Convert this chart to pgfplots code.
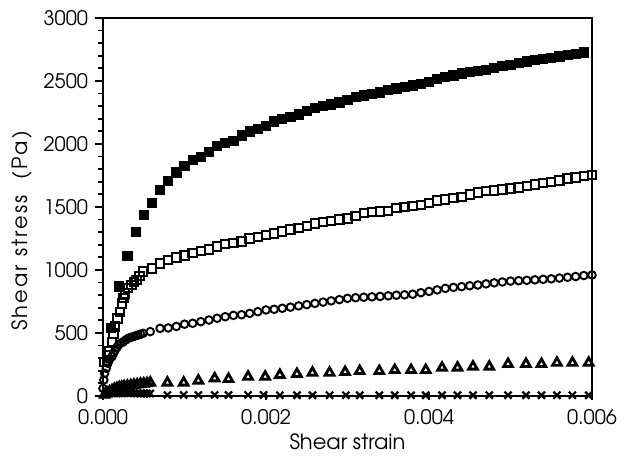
\documentclass[border=0pt]{standalone}
\usepackage{fontspec}
\setmainfont{TeX Gyre Adventor}
\newfontfamily\spacedfont[LetterSpace=10]{TeX Gyre Adventor}
\usepackage{pgfplots}
\pgfplotsset{compat=1.18}
\usepackage{pgfplotstable}

\pgfplotstableread{
x y
0.0001 540
0.0002 870
0.0003 1110
0.0004 1300
0.0005 1440
0.0006 1530
0.0007 1635
0.0008 1705
0.0009 1775
0.0010 1828
0.0011 1875
0.0012 1900
0.0013 1940
0.0014 1985
0.0015 2010
0.0016 2025
0.0017 2068
0.0018 2100
0.0019 2122
0.0020 2145
0.0021 2180
0.0022 2200
0.0023 2215
0.0024 2235
0.0025 2265
0.0026 2285
0.0027 2300
0.0028 2315
0.0029 2330
0.0030 2350
0.0031 2375
0.0032 2385
0.0033 2395
0.0034 2410
0.0035 2430
0.0036 2442
0.0037 2455
0.0038 2465
0.0039 2480
0.0040 2495
0.0041 2515
0.0042 2530
0.0043 2545
0.0044 2560
0.0045 2570
0.0046 2580
0.0047 2590
0.0048 2605
0.0049 2618
0.0050 2630
0.0051 2645
0.0052 2655
0.0053 2665
0.0054 2678
0.0055 2685
0.0056 2695
0.0057 2705
0.0058 2718
0.0059 2727
}\filledsq

\pgfplotstableread{
x y
0.00002 270
0.00005 320
0.00008 352
0.00011 430
0.00013 497
0.00015 550
0.00018 616
0.00021 669
0.00023 735
0.00025 780
0.00027 815
0.00031 855
0.00035 881
0.00038 905
0.00041 921
0.00045 950
0.00049 987
0.0006 1013
0.0007 1053
0.0008 1079
0.0009 1100
0.0010 1115
0.0011 1133
0.0012 1150
0.0013 1164
0.0014 1185
0.0015 1205
0.0016 1212
0.0017 1225
0.0018 1250
0.0019 1264
0.0020 1278
0.0021 1291
0.0022 1304
0.0023 1320
0.0024 1335
0.0025 1350
0.0026 1370
0.0027 1380
0.0028 1390
0.0029 1400
0.0030 1410
0.0031 1430
0.0032 1450
0.0033 1458
0.0034 1465
0.0035 1470
0.0036 1490
0.0037 1500
0.0038 1510
0.0039 1516
0.0040 1530
0.0041 1550
0.0042 1560
0.0043 1570
0.0044 1580
0.0045 1600
0.0046 1615
0.0047 1625
0.0048 1630
0.0049 1640
0.0050 1648
0.0051 1655
0.0052 1665
0.0053 1680
0.0054 1690
0.0055 1700
0.0056 1710
0.0057 1725
0.0058 1735
0.0059 1748
0.0060 1752
}\opensq

\pgfplotstableread{
x y
0.00000 60
0.00001 127
0.00002 180
0.00004 220
0.00006 260
0.00008 290
0.00011 312
0.00013 340
0.00015 365
0.00017 385
0.00019 405
0.00022 420
0.00025 431
0.00028 445
0.00031 458
0.00034 465
0.00037 471
0.00040 478
0.00043 484
0.00046 490
0.00049 497
0.00058 511
0.0007 537
0.0008 540
0.0009 552
0.0010 570
0.0011 577
0.0012 590
0.0013 603
0.0014 617
0.0015 629
0.0016 640
0.0017 645
0.0018 656
0.0019 669
0.0020 683
0.0021 688
0.0022 696
0.0023 705
0.0024 715
0.0025 725
0.0026 735
0.0027 745
0.0028 755
0.0029 765
0.0030 775
0.0031 780
0.0032 784
0.0033 787
0.0034 790
0.0035 795
0.0036 800
0.0037 803
0.0038 808
0.0039 820
0.0040 830
0.0041 842
0.0042 854
0.0043 862
0.0044 868
0.0045 875
0.0046 881
0.0047 890
0.0048 898
0.0049 905
0.0050 912
0.0051 915
0.0052 918
0.0053 922
0.0054 926
0.0055 930
0.0056 936
0.0057 942
0.0058 948
0.0059 956
0.0060 960
}\circles

\pgfplotstableread{
x y
0.00002 10
0.00005 25
0.00008 35
0.00011 45
0.00014 55
0.00017 62
0.00020 68
0.00023 72
0.00026 76
0.00030 80
0.00034 84
0.00038 88
0.00042 92
0.00046 96
0.00050 98
0.00054 101
0.00058 106
0.00079 106
0.00099 106
0.00117 122
0.00137 140
0.00154 135
0.00178 153
0.00199 153
0.00217 167
0.00238 175
0.00257 185
0.00278 185
0.00297 190
0.00315 198
0.00339 198
0.00358 206
0.00378 206
0.00396 206
0.00416 225
0.00435 225
0.00454 233
0.00474 233
0.00497 254
0.00519 254
0.00538 254
0.00557 264
0.00576 264
0.00596 264
}\triangles

\pgfplotstableread{
x y
0.00002 15
0.00005 18
0.00008 20
0.00011 22
0.00014 22
0.00017 22
0.00020 22
0.00023 22
0.00026 22
0.00030 22
0.00034 22
0.00038 22
0.00042 22
0.00046 20
0.00050 20
0.00054 20
0.00058 20
0.00079 8
0.00099 8
0.00117 8
0.00137 8
0.00154 8
0.00178 8
0.00197 8
0.00217 6
0.00238 6
0.00257 6
0.00278 6
0.00298 6
0.00315 6
0.00339 6
0.00358 6
0.00378 6
0.00396 6
0.00416 6
0.00435 6
0.00454 6
0.00474 6
0.00497 6
0.00519 6
0.00538 6
0.00557 6
0.00576 6
0.00596 6
}\crosses

\begin{document}
\begin{tikzpicture}
\path[use as bounding box] (-51.5pt,-34pt) rectangle (261pt,198pt);
\begin{axis}[
  at={(0,0)}, anchor=south west,
  scale only axis,
  width=244.5pt, height=189pt,
  xmin=0, xmax=0.006, ymin=0, ymax=3000,
  scaled x ticks=false, scaled y ticks=false,
  xtick={0,0.002,0.004,0.006},
  xticklabels={0.000,0.002,0.004,0.006},
  ytick={0,500,1000,1500,2000,2500,3000},
  yticklabels={0,500,1000,1500,2000,2500,3000},
  minor y tick num=4,
  axis line style={line width=1.4pt},
  every tick/.style={black, line width=0.9pt},
  xtick align=center,
  ytick align=outside,
  major tick length=4pt,
  minor tick length=2.3pt,
  xtick pos=bottom, ytick pos=left,
  tick label style={font=\fontsize{10}{12}\selectfont},
  xticklabel style={yshift=-1pt},
  xlabel={Shear strain},
  ylabel={\spacedfont Shear stress~~(Pa)},
  label style={font=\fontsize{10.5}{12}\selectfont},
  xlabel style={yshift=2pt},
  ylabel style={yshift=-1pt, xshift=-12pt},
  clip=false,
]
\addplot[only marks, mark=x, mark size=2.5pt, line width=1.1pt, black] table {\crosses};
\addplot[only marks, mark=triangle, mark size=2.5pt, line width=1.4pt, black] table {\triangles};
\addplot[only marks, mark=o, mark size=1.9pt, line width=0.95pt, black] table {\circles};
\addplot[only marks, mark=square, mark size=2.1pt, line width=1pt, black] table {\opensq};
\addplot[only marks, mark=square*, mark size=2.3pt, black] table {\filledsq};
\end{axis}
\end{tikzpicture}
\end{document}
